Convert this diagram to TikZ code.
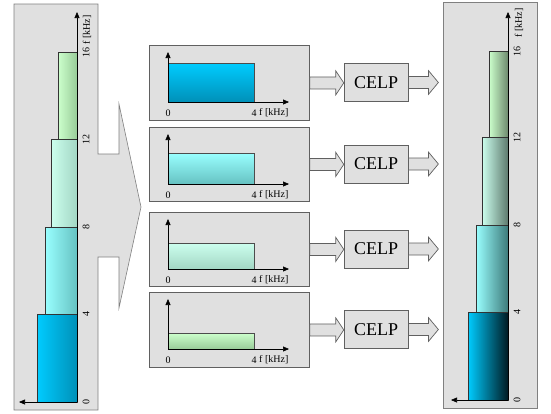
\documentclass[tikz,border=0pt]{standalone}
\usepackage{fontspec}
\setmainfont{Liberation Serif}
\usetikzlibrary{arrows.meta,calc}
\definecolor{bg}{HTML}{E0E0E0}
\definecolor{edge}{HTML}{808080}
\definecolor{boxedge}{HTML}{606060}
\definecolor{cA}{HTML}{00CCFF}
\definecolor{cAd}{HTML}{0090B8}
\definecolor{cAk}{HTML}{001A22}
\definecolor{cB}{HTML}{99FFFF}
\definecolor{cBd}{HTML}{66C2C2}
\definecolor{cBk}{HTML}{3D7A7A}
\definecolor{cC}{HTML}{CCFFEE}
\definecolor{cCd}{HTML}{A3D6C4}
\definecolor{cCk}{HTML}{5E7A6E}
\definecolor{cD}{HTML}{CCFFCC}
\definecolor{cDd}{HTML}{99CC99}
\definecolor{cDk}{HTML}{6E8A6E}
\tikzset{
  panel/.style={fill=bg,draw=edge,line width=0.6pt},
  subbox/.style={fill=bg,draw=boxedge,line width=0.8pt,minimum width=160pt,anchor=north west,inner sep=0pt},
  celp/.style={fill=bg,draw=boxedge,line width=0.8pt,minimum width=64pt,minimum height=38pt,inner sep=0pt,font=\fontsize{18}{20}\selectfont},
  blockarrow/.style={fill=bg,draw=boxedge,line width=0.7pt,line join=miter},
  axis/.style={line width=0.6pt,-{Triangle[length=6pt,width=5pt]}},
  bar/.style={draw=black!80,line width=0.5pt},
  tick/.style={font=\fontsize{10}{11}\selectfont,inner sep=0pt},
  rtick/.style={tick,rotate=90}
}
\begin{document}
\begin{tikzpicture}[x=1pt,y=-1pt]
\useasboundingbox (0,0) rectangle (551,413);
% left panel with big arrow
\draw[panel] (14,4) -- (98,4) -- (98,154) -- (119,154) -- (119,104) -- (141,207)
  -- (119,308) -- (119,257) -- (98,257) -- (98,410) -- (14,410) -- cycle;
% left bars
\shade[left color=cA,right color=cAd] (37,314) rectangle (77,402);
\draw[bar] (37,314) rectangle (77,402);
\shade[left color=cB,right color=cBd] (45,227) rectangle (77,314);
\draw[bar] (45,227) rectangle (77,314);
\shade[left color=cC,right color=cCd] (51,139) rectangle (77,227);
\draw[bar] (51,139) rectangle (77,227);
\shade[left color=cD,right color=cDd] (58,52) rectangle (77,139);
\draw[bar] (58,52) rectangle (77,139);
\coordinate (lo) at (77,402);
\coordinate (ltop) at (77,12);
\coordinate (lleft) at (19,402);
\draw[axis] (lo) -- (ltop);
\draw[axis] (lo) -- (lleft);
\node[rtick] (l0) at (86,402) {0};
\node[rtick] (l4) at (86,314) {4};
\node[rtick] (l8) at (86,227) {8};
\node[rtick] (l12) at (86,139) {12};
\node[rtick] (l16) at (86,52) {16};
\node[rtick] (lf) at (87,30) {f [kHz]};
% right panel
\draw[panel] (443,2) rectangle (537,408);
\shade[left color=cA,right color=cAk] (468,312) rectangle (508,400);
\draw[bar] (468,312) rectangle (508,400);
\shade[left color=cB,right color=cBk] (476,225) rectangle (508,312);
\draw[bar] (476,225) rectangle (508,312);
\shade[left color=cC,right color=cCk] (482,137) rectangle (508,225);
\draw[bar] (482,137) rectangle (508,225);
\shade[left color=cD,right color=cDk] (489,51) rectangle (508,137);
\draw[bar] (489,51) rectangle (508,137);
\coordinate (ro) at (508,400);
\coordinate (rtop) at (508,12);
\coordinate (rleft) at (451,400);
\draw[axis] (ro) -- (rtop);
\draw[axis] (ro) -- (rleft);
\node[rtick] (r0) at (517,400) {0};
\node[rtick] (r4) at (517,312) {4};
\node[rtick] (r8) at (517,225) {8};
\node[rtick] (r12) at (517,137) {12};
\node[rtick] (r16) at (517,51) {16};
\node[rtick] (rf) at (519,23) {f [kHz]};
% sub-band boxes
\foreach \i/\t/\b/\h/\ct/\cb in {1/45/120/39/cA/cAd, 2/127/201/31/cB/cBd, 3/212/286/26/cC/cCd, 4/292/367/16/cD/cDd}{
  \pgfmathsetmacro{\hh}{\b-\t}
  \node[subbox,minimum height=\hh pt] (b\i) at (149,\t) {};
  \pgfmathsetmacro{\ay}{\t+57}
  \pgfmathsetmacro{\ry}{\t+57-\h}
  \coordinate (o\i) at (168,\ay);
  \shade[top color=\ct,bottom color=\cb] (168,\ry) rectangle (254,\ay);
  \draw[draw=black!70,line width=0.5pt] (168,\ry) rectangle (254,\ay);
  \draw[axis] (o\i) -- (168,\t+7);
  \draw[axis] (o\i) -- (289,\ay);
  \node[tick] (z\i) at (168,\t+68) {0};
  \node[tick] (q\i) at (254,\t+68) {4};
  \node[tick,anchor=west] (f\i) at (259,\t+68) {f [kHz]};
  \pgfmathsetmacro{\cy}{(\t+\b)/2}
  \node[celp] (c\i) at (376,\cy) {CELP};
  \draw[blockarrow] (b\i.east) ++(0,-6) -- ++(26,0) -- ++(0,-6) -- ++(8,12) -- ++(-8,12)
     -- ++(0,-6) -- ++(-26,0) -- cycle;
  \draw[blockarrow] (c\i.east) ++(0,-6) -- ++(20,0) -- ++(0,-6) -- ++(10,12) -- ++(-10,12)
     -- ++(0,-6) -- ++(-20,0) -- cycle;
}
\end{tikzpicture}
\end{document}
